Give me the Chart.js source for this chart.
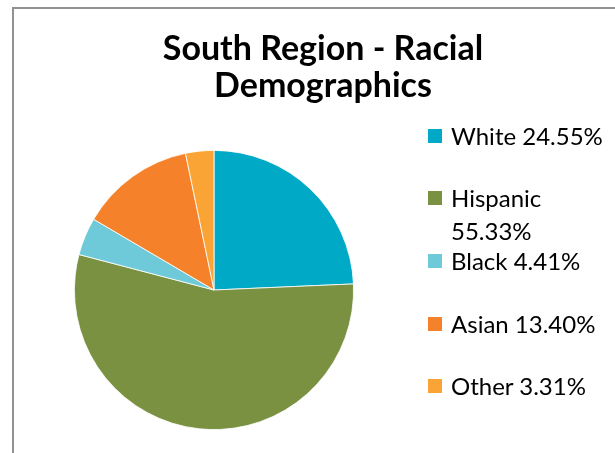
<!DOCTYPE html>
<html>
<head>
<meta charset="utf-8">
<script src="https://cdn.jsdelivr.net/npm/chart.js@4/dist/chart.umd.min.js"></script>
<style>
  body { margin: 0; background: #fff; overflow: hidden; }
  #frame { position: absolute; left: 12px; top: 7px; width: 640px; height: 480px;
           border: 2px solid #929292; box-sizing: border-box; }
  #wrap { position: absolute; left: 0; top: 0; width: 615px; height: 453px; }
  #title { position: absolute; left: 13px; width: 620px; top: 28px; text-align: center;
           font: bold 34px Lato, "Liberation Sans", sans-serif; line-height: 37px; color: #000; }
  .item { position: absolute; left: 428px; width: 190px; font: 24px Lato, "Liberation Sans", sans-serif;
          line-height: 33px; color: #000; }
  .item span.box { position: absolute; left: 0; top: 10px; width: 14px; height: 14px; }
  .item span.txt { display: block; margin-left: 23px; width: 160px; }
</style>
</head>
<body>
<div id="frame"></div>
<div id="wrap"><canvas id="pie" width="615" height="453"></canvas></div>
<div id="title">South Region - Racial<br>Demographics</div>
<div id="legend"></div>
<script>
var labels = ['White', 'Hispanic', 'Black', 'Asian', 'Other']
var shares = [24.55, 55.33, 4.41, 13.40, 3.31]
var colors = ['#00A9C6', '#7A9142', '#6ECAD9', '#F5822A', '#F9A435']
var legendRows = [135, 197, 260, 323, 385]

// legend drawn as html, wraps like the excel one
var legend = document.getElementById('legend')
for (var k = 0; k < labels.length; k++) {
  var div = document.createElement('div')
  div.className = 'item'
  div.style.top = (legendRows[k] - 16.5) + 'px'
  div.innerHTML = '<span class="box" style="background:' + colors[k] + '"></span>' +
    '<span class="txt">' + labels[k] + ' ' + shares[k].toFixed(2) + '%</span>'
  legend.appendChild(div)
}

const ctx = document.getElementById('pie').getContext('2d');
const pie = new Chart(ctx, {
  type: 'pie',
  data: {
    labels: labels,
    datasets: [{
      data: shares,
      backgroundColor: colors,
      borderColor: '#ffffff',
      borderWidth: 0.8
    }]
  },
  options: {
    responsive: false,
    animation: false,
    events: [],
    layout: { padding: { left: 74, right: 261, top: 150, bottom: 23 } },
    plugins: {
      legend: { display: false },
      title: { display: false },
      tooltip: { enabled: false }
    }
  }
});
</script>
</body>
</html>
